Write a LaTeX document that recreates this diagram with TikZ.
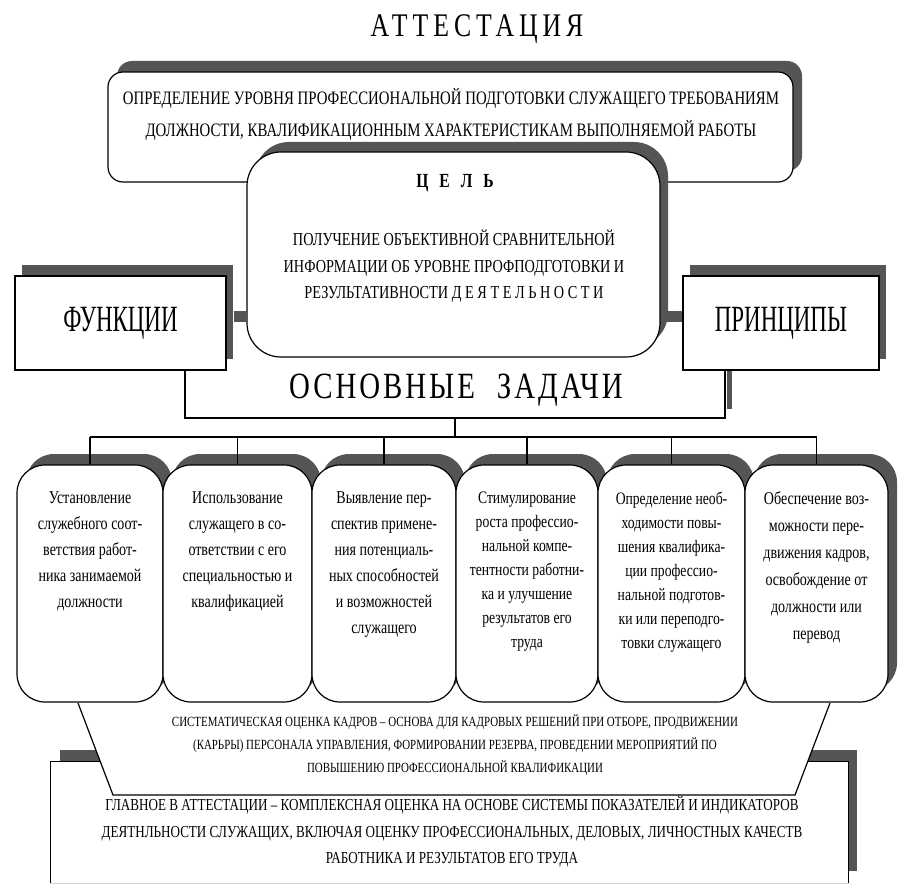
\documentclass[tikz,border=0pt]{standalone}
\usepackage{fontspec}
\setmainfont{Liberation Serif}[FakeStretch=0.78]
\newfontfamily\condbig{Liberation Serif}[FakeStretch=0.62]
\newfontfamily\spacedA{Liberation Serif}[FakeStretch=0.78,LetterSpace=15]
\newfontfamily\spacedB{Liberation Serif}[FakeStretch=0.78,LetterSpace=8]
\usetikzlibrary{shadows}
\definecolor{shgray}{RGB}{85,85,85}
\newcommand\fsz[2]{\fontsize{#1}{#2}\selectfont}
\begin{document}
\begin{tikzpicture}[x=1pt,y=-1pt,line width=1.2pt,
  box/.style={draw=black, fill=white, inner sep=0pt},
  shadowA/.style={drop shadow={shadow xshift=9pt,shadow yshift=11pt,fill=shgray,opacity=1}},
  shadowB/.style={drop shadow={shadow xshift=7pt,shadow yshift=11pt,fill=shgray,opacity=1}},
  taskbox/.style={box, shadowA, rounded corners=28pt, minimum height=237pt},
  tasktext/.style={align=center, anchor=north, inner sep=0pt},
]
\useasboundingbox (0,0) rectangle (903,885);

% title
\node (title) at (477,29) {\spacedA\fsz{33}{33}АТТЕСТАЦИЯ};

% top definition box
\node[box, shadowA, rounded corners=15pt, minimum width=685pt, minimum height=110pt] (def) at (450.5,127) {};
\node[align=center, font=\fsz{19}{32}] (deftext) at (451,114)
 {ОПРЕДЕЛЕНИЕ УРОВНЯ ПРОФЕССИОНАЛЬНОЙ ПОДГОТОВКИ СЛУЖАЩЕГО ТРЕБОВАНИЯМ\\
  ДОЛЖНОСТИ, КВАЛИФИКАЦИОННЫМ ХАРАКТЕРИСТИКАМ ВЫПОЛНЯЕМОЙ РАБОТЫ};

% function/principle boxes
\node[box, shadowB, minimum width=211pt, minimum height=94pt, font=\condbig\fsz{37}{37}] (func) at (120.5,323) {ФУНКЦИИ};
\node[box, shadowB, minimum width=196pt, minimum height=94pt, font=\condbig\fsz{37}{37}] (princ) at (781,323) {ПРИНЦИПЫ};

% goal box
\node[box, drop shadow={shadow xshift=8pt,shadow yshift=10pt,fill=shgray,opacity=1}, rounded corners=34pt, minimum width=413pt, minimum height=205pt] (goal) at (453.5,254.5) {};
\path (func.east) ++(7,-6) coordinate (fa);
\path (princ.west) ++(0,-6) coordinate (pa);
\draw[shgray, line width=11pt] (fa) -- (fa -| goal.west);
\draw[shgray, line width=11pt] (goal.east |- pa) -- (pa);
\node[font=\bfseries\fsz{20}{20}] (goaltitle) at (455,183) {Ц\hspace{11pt}Е\hspace{11pt}Л\hspace{11pt}Ь};
\node[align=center, font=\fsz{18.3}{26.5}] (goaltext) at (454,266.5)
 {ПОЛУЧЕНИЕ ОБЪЕКТИВНОЙ СРАВНИТЕЛЬНОЙ\\
  ИНФОРМАЦИИ ОБ УРОВНЕ ПРОФПОДГОТОВКИ И\\
  РЕЗУЛЬТАТИВНОСТИ Д Е Я Т Е Л Ь Н О С Т И};

% bracket "основные задачи"
\coordinate (bl) at (185,418);
\coordinate (br) at (725,418);
\path (princ.south -| br) ++(4.5,0) coordinate (brs);
\draw[shgray, line width=5pt] (brs) -- ++(0,38);
\draw (func.south -| bl) -- (bl) -- (br) -- (princ.south -| br);
\node[font=\spacedB\fsz{37}{37}] (tasks) at (456,390) {ОСНОВНЫЕ\hspace{22pt}ЗАДАЧИ};

% bottom main rectangle
\node[fill=white, inner sep=0pt, drop shadow={shadow xshift=9pt,shadow yshift=12pt,fill=shgray,opacity=1}, minimum width=797pt, minimum height=121pt] (main) at (449.5,822.5) {};
\draw (main.south west) -- (main.north west) -- (main.north east) -- (main.south east);
\draw[gray!35, line width=0.8pt] (main.south west) -- (main.south east);

% trapezoid
\coordinate (tz1) at (78,703);
\coordinate (tz2) at (113,795);
\coordinate (tz3) at (795,795);
\coordinate (tz4) at (830,703);
\fill[white] (tz1) -- (tz2) -- (tz3) -- (tz4) -- cycle;
\draw (tz1) -- (tz2) -- (tz3) -- (tz4);
\node[align=center, font=\fsz{14}{23}] (sys) at (455,745)
 {СИСТЕМАТИЧЕСКАЯ ОЦЕНКА КАДРОВ – ОСНОВА ДЛЯ КАДРОВЫХ РЕШЕНИЙ ПРИ ОТБОРЕ, ПРОДВИЖЕНИИ\\
  (КАРЬРЫ) ПЕРСОНАЛА УПРАВЛЕНИЯ, ФОРМИРОВАНИИ РЕЗЕРВА, ПРОВЕДЕНИИ МЕРОПРИЯТИЙ ПО\\
  ПОВЫШЕНИЮ ПРОФЕССИОНАЛЬНОЙ КВАЛИФИКАЦИИ};
\node[align=center, font=\fsz{16.8}{26.5}] (maintext) at (452,832)
 {ГЛАВНОЕ В АТТЕСТАЦИИ – КОМПЛЕКСНАЯ ОЦЕНКА НА ОСНОВЕ СИСТЕМЫ ПОКАЗАТЕЛЕЙ И ИНДИКАТОРОВ\\
  ДЕЯТНЛЬНОСТИ СЛУЖАЩИХ, ВКЛЮЧАЯ ОЦЕНКУ ПРОФЕССИОНАЛЬНЫХ, ДЕЛОВЫХ, ЛИЧНОСТНЫХ КАЧЕСТВ\\
  РАБОТНИКА И РЕЗУЛЬТАТОВ ЕГО ТРУДА};

% task boxes
\node[taskbox, minimum width=146pt] (b1) at (90,583.5) {};
\node[taskbox, minimum width=149pt] (b2) at (237.5,583.5) {};
\node[taskbox, minimum width=144pt] (b3) at (384,583.5) {};
\node[taskbox, minimum width=142pt] (b4) at (527,583.5) {};
\node[taskbox, minimum width=147pt] (b5) at (671.5,583.5) {};
\node[taskbox, minimum width=143pt] (b6) at (816.5,583.5) {};

\node[tasktext, font=\fsz{18}{26}] (t1) at ([yshift=-27pt]b1.north)
 {Установление\\служебного соот-\\ветствия работ-\\ника занимаемой\\должности};
\node[tasktext, font=\fsz{18}{26}] (t2) at ([yshift=-27pt]b2.north)
 {Использование\\служащего в со-\\ответствии с его\\специальностью и\\квалификацией};
\node[tasktext, font=\fsz{18}{26}] (t3) at ([yshift=-27pt]b3.north)
 {Выявление пер-\\спектив примене-\\ния потенциаль-\\ных способностей\\и возможностей\\служащего};
\node[tasktext, font=\fsz{17.5}{24}] (t4) at ([yshift=-27pt]b4.north)
 {Стимулирование\\роста профессио-\\нальной компе-\\тентности работни-\\ка и улучшение\\результатов его\\труда};
\node[tasktext, font=\fsz{17.5}{24}] (t5) at ([yshift=-27pt]b5.north)
 {Определение необ-\\ходимости повы-\\шения квалифика-\\ции профессио-\\нальной подготов-\\ки или переподго-\\товки служащего};
\node[tasktext, font=\fsz{18}{27}] (t6) at ([yshift=-27pt]b6.north)
 {Обеспечение воз-\\можности пере-\\движения кадров,\\освобождение от\\должности или\\перевод};

% tree connectors
\coordinate (stem) at (455,418);
\coordinate (hub) at (455,437);
\draw (stem) -- (hub);
\draw (b1.north |- hub) -- (b6.north |- hub);
\foreach \i in {1,...,6} {\draw (b\i.north |- hub) -- (b\i.north);}
\end{tikzpicture}
\end{document}
